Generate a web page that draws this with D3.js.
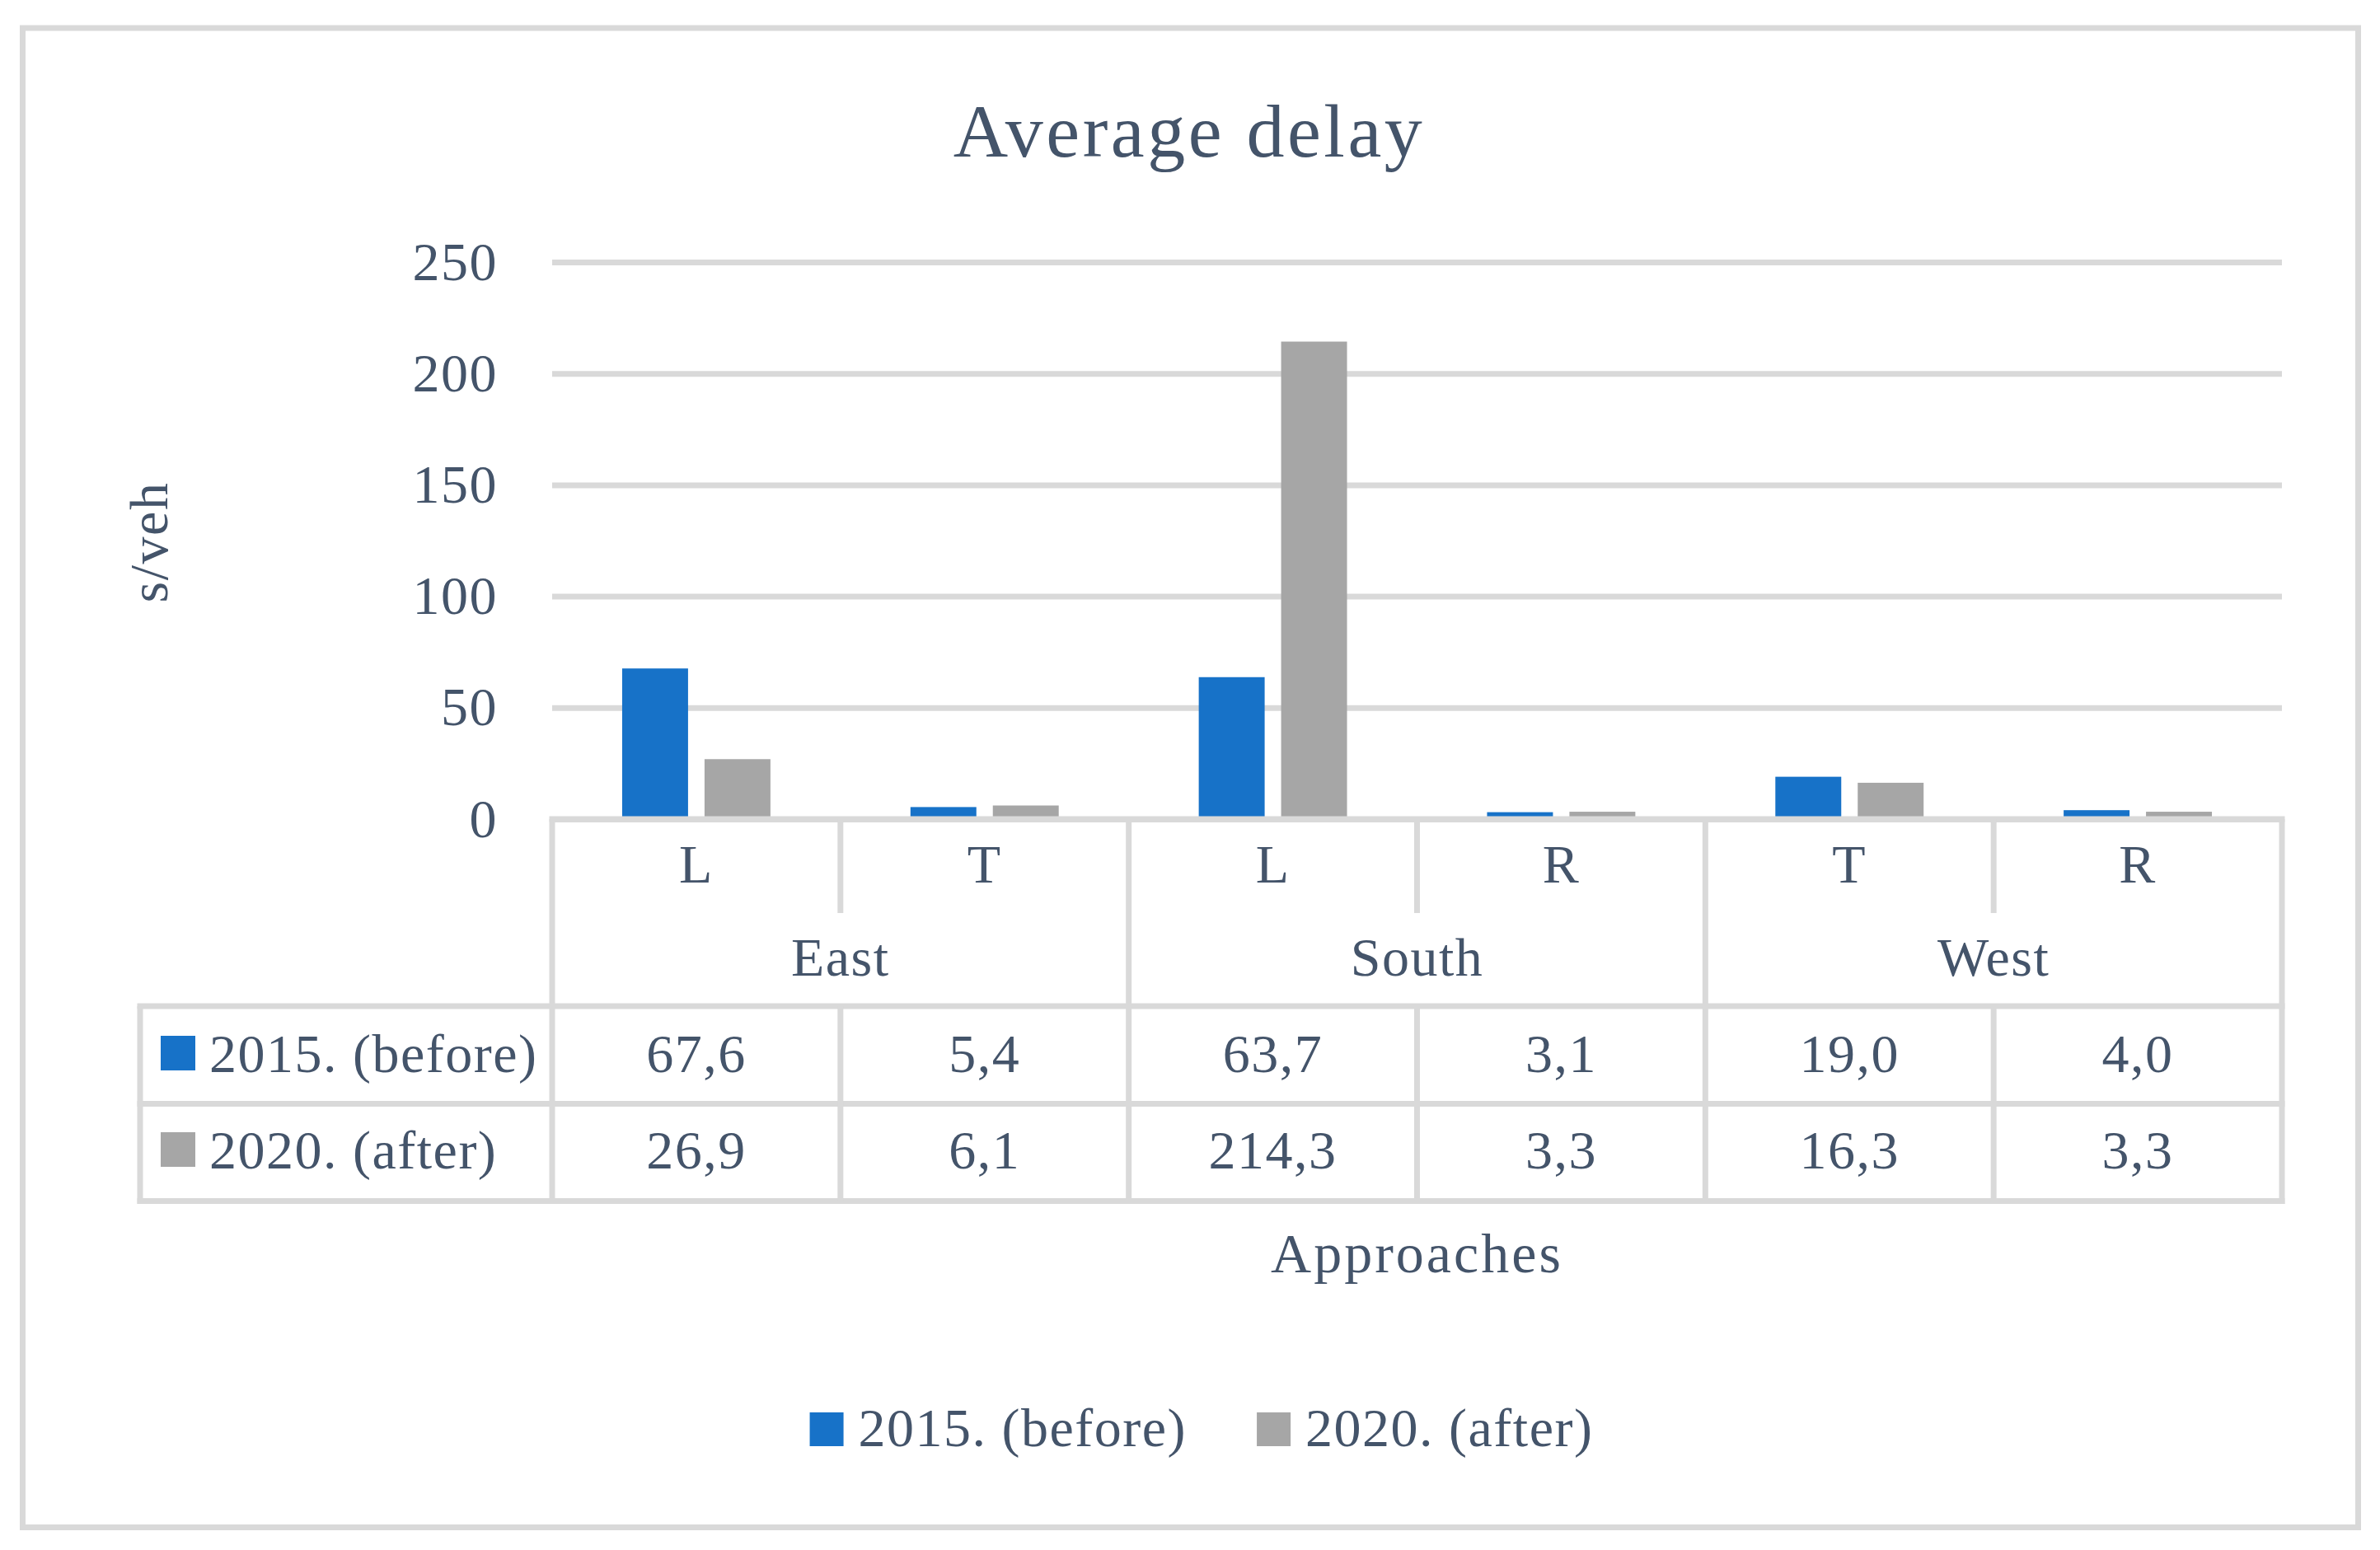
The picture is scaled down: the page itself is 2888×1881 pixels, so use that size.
<!DOCTYPE html>
<html>
<head>
<meta charset="utf-8">
<script src="https://cdn.jsdelivr.net/npm/d3@7"></script>
<style>
  body { margin: 0; background: #fff; }
  text { font-family: 'Liberation Serif', 'Times New Roman', serif; fill: #44546a; letter-spacing: 1.5px; }
</style>
</head>
<body>
<div id="chart"></div>
<script>
// data
let groups = ['East', 'East', 'South', 'South', 'West', 'West']
let approaches = ['L', 'T', 'L', 'R', 'T', 'R']
let seriesNames = ['2015. (before)', '2020. (after)']
let before = [67.6, 5.4, 63.7, 3.1, 19.0, 4.0]
let after = [26.9, 6.1, 214.3, 3.3, 16.3, 3.3]
let yTicks = [0, 50, 100, 150, 200, 250]

let colors = ['#1772c8', '#a6a6a6']
let lineColor = '#d9d9d9'

let W = 2888
let H = 1881
let margin = { top: 318, left: 670, right: 119, bottom: 887 }
let width = W - margin.left - margin.right
let height = H - margin.top - margin.bottom

let svg = d3
  .select('#chart')
  .append('svg')
  .attr('width', W)
  .attr('height', H)

// chart border
svg
  .append('rect')
  .attr('x', 27.5)
  .attr('y', 34)
  .attr('width', 2834)
  .attr('height', 1819.5)
  .attr('fill', '#fff')
  .attr('stroke', lineColor)
  .attr('stroke-width', 7)

svg
  .append('text')
  .attr('x', 1443)
  .attr('y', 190)
  .attr('text-anchor', 'middle')
  .style('font-size', '92px')
  .style('letter-spacing', '3.5px')
  .text('Average delay')

let g = svg
  .append('g')
  .attr('transform', 'translate(' + margin.left + ',' + margin.top + ')')

let xPositionScale = d3
  .scaleBand()
  .domain(d3.range(approaches.length))
  .range([0, width])

let xInner = d3
  .scaleBand()
  .domain([0, 1])
  .range([0, xPositionScale.bandwidth()])
  .paddingInner(0.2)
  .paddingOuter(0.85)

let yPositionScale = d3
  .scaleLinear()
  .domain([0, 250])
  .range([height, 0])

// gridlines + tick labels
let yAxis = d3
  .axisLeft(yPositionScale)
  .tickValues(yTicks)
  .tickSize(-width)
  .tickPadding(66)
g.append('g')
  .attr('class', 'axis y-axis')
  .call(yAxis)
  .call(a => a.select('.domain').remove())
  .call(a => a.selectAll('line').attr('stroke', lineColor).attr('stroke-width', 7))
  .call(a =>
    a
      .selectAll('text')
      .attr('fill', '#44546a')
      .style('font-size', '66px')
      .style('font-family', "'Liberation Serif', serif")
  )

// bars
let series = [before, after]
series.forEach((values, s) => {
  g.selectAll('.bar-' + s)
    .data(values)
    .enter()
    .append('rect')
    .attr('class', 'bar-' + s)
    .attr('x', (d, i) => xPositionScale(i) + xInner(s))
    .attr('width', xInner.bandwidth())
    .attr('y', d => yPositionScale(d))
    .attr('height', d => height - yPositionScale(d))
    .attr('fill', colors[s])
})

// data table below the plot (in svg coords)
let t0 = margin.top + height // 994
let subBottom = 1108
let rowTops = [1221, 1339.5, 1457.5]
let keyLeft = 170
let right = margin.left + width

let tbl = svg.append('g').attr('class', 'table')

function hline(y, x1, x2) {
  tbl.append('line')
    .attr('x1', x1).attr('x2', x2).attr('y1', y).attr('y2', y)
    .attr('stroke', lineColor).attr('stroke-width', 7)
}
function vline(x, y1, y2) {
  tbl.append('line')
    .attr('x1', x).attr('x2', x).attr('y1', y1).attr('y2', y2)
    .attr('stroke', lineColor).attr('stroke-width', 7)
}

hline(t0, margin.left - 3.5, right + 3.5)
rowTops.forEach(y => hline(y, keyLeft - 3.5, right + 3.5))
vline(keyLeft, rowTops[0], rowTops[2] + 3.5)

let edges = d3.range(approaches.length + 1).map(i =>
  i < approaches.length ? margin.left + xPositionScale(i) : right
)
edges.forEach((x, i) => {
  let groupEdge = i === 0 || i === approaches.length || groups[i] !== groups[i - 1]
  if (groupEdge) {
    vline(x, t0, rowTops[2] + 3.5)
  } else {
    vline(x, t0, subBottom)
    vline(x, rowTops[0], rowTops[2])
  }
})

let bw = xPositionScale.bandwidth()

// approach labels
tbl.selectAll('.approach')
  .data(approaches)
  .enter()
  .append('text')
  .attr('class', 'approach')
  .attr('x', (d, i) => margin.left + xPositionScale(i) + bw / 2)
  .attr('y', 1071)
  .attr('text-anchor', 'middle')
  .style('font-size', '66px')
  .text(d => d)

// group labels
let groupNames = Array.from(new Set(groups))
tbl.selectAll('.group')
  .data(groupNames)
  .enter()
  .append('text')
  .attr('class', 'group')
  .attr('x', name => {
    let idx = d3.range(groups.length).filter(i => groups[i] === name)
    return margin.left + (xPositionScale(idx[0]) + xPositionScale(idx[idx.length - 1]) + bw) / 2
  })
  .attr('y', 1184)
  .attr('text-anchor', 'middle')
  .style('font-size', '66px')
  .text(d => d)

let fmt = v => d3.format('.1f')(v).replace('.', ',')
let rowBaselines = [1301, 1418]
series.forEach((values, s) => {
  tbl.selectAll('.val-' + s)
    .data(values)
    .enter()
    .append('text')
    .attr('class', 'val-' + s)
    .attr('x', (d, i) => margin.left + xPositionScale(i) + bw / 2)
    .attr('y', rowBaselines[s])
    .attr('text-anchor', 'middle')
    .style('font-size', '66px')
    .text(d => fmt(d))

  tbl.append('rect')
    .attr('x', 195)
    .attr('y', rowBaselines[s] - 44)
    .attr('width', 42)
    .attr('height', 42)
    .attr('fill', colors[s])
  tbl.append('text')
    .attr('x', 254)
    .attr('y', rowBaselines[s])
    .style('font-size', '66px')
    .text(seriesNames[s])
})

// axis titles
svg.append('text')
  .attr('x', margin.left + width / 2)
  .attr('y', 1544)
  .attr('text-anchor', 'middle')
  .style('font-size', '68px')
  .style('letter-spacing', '3px')
  .text('Approaches')

svg.append('text')
  .attr('transform', 'translate(203,658) rotate(-90)')
  .attr('text-anchor', 'middle')
  .style('font-size', '66px')
  .text('s/veh')

// legend
let legend = svg.append('g').attr('class', 'legend')
let items = legend.selectAll('.item')
  .data(seriesNames)
  .enter()
  .append('g')
  .attr('class', 'item')
items.append('rect')
  .attr('y', 1714)
  .attr('width', 41)
  .attr('height', 41)
  .attr('fill', (d, i) => colors[i])
items.append('text')
  .attr('x', 59)
  .attr('y', 1755)
  .style('font-size', '66px')
  .text(d => d)

let widths = []
items.each(function () {
  widths.push(59 + d3.select(this).select('text').node().getComputedTextLength())
})
let gap = 85
let total = d3.sum(widths) + gap * (widths.length - 1)
let start = 1458 - total / 2
items.attr('transform', (d, i) => {
  let x = start + d3.sum(widths.slice(0, i)) + gap * i
  return 'translate(' + x + ',0)'
})
</script>
</body>
</html>
